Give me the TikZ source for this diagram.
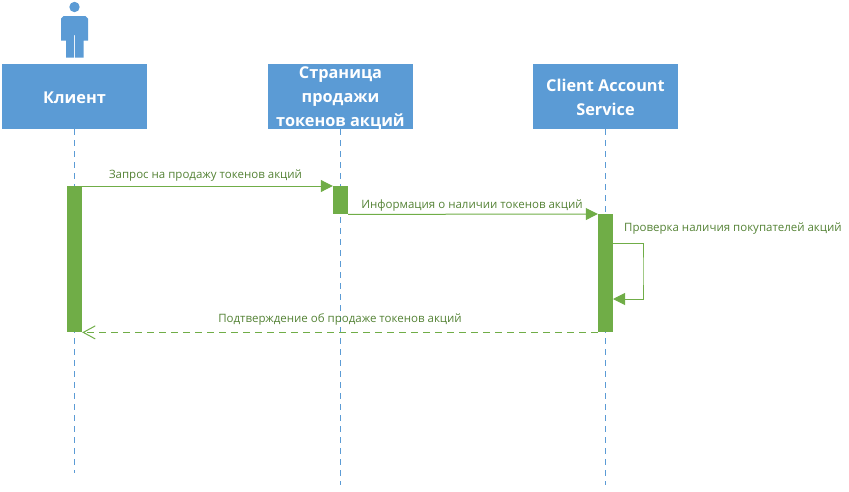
\documentclass[tikz,border=0pt]{standalone}
\usepackage{fontspec}
\setmainfont{Open Sans}
\usetikzlibrary{arrows.meta}
\definecolor{headblue}{HTML}{5B9BD5}
\definecolor{actgreen}{HTML}{70AD47}
\definecolor{labelgreen}{HTML}{548235}
\newcommand{\headstrut}{\rule{0pt}{15pt}}

\begin{document}
\begin{tikzpicture}
  [x=1pt, y=-1pt,
    head/.style={fill=headblue, minimum width=145pt, minimum height=65pt,
      inner sep=0pt, align=center, text=white, font=\fontsize{16.3}{24}\selectfont\bfseries},
    act/.style={fill=actgreen, minimum width=15pt, inner sep=0pt, anchor=north},
    life/.style={headblue, thin, dash pattern=on 6pt off 5pt},
    msg/.style={actgreen, line width=1pt, -{Triangle[length=12pt,width=12pt]}},
    reply/.style={actgreen, line width=1pt, dash pattern=on 7pt off 5pt, -{Straight Barb[length=12pt,width=13pt]}},
    lbl/.style={text=labelgreen, inner sep=0pt, font=\fontsize{11.5}{14}\selectfont}]
 \useasboundingbox (0,0) rectangle (849,491);

 % headers
 \node[head] (client) at (74.5,96.5) {\headstrut Клиент};
 \node[head] (page) at (340.5,96.5) {Страница\\продажи\\\smash{токенов акций}};
 \node[head] (service) at (605.5,96.5) {\headstrut Client Account\\Service};

 % lifelines
 \coordinate (clientend) at (74.5,473);
 \coordinate (pageend) at (340.5,485);
 \coordinate (serviceend) at (605.5,485);
 \foreach \x in {client,page,service}
   \draw[life] (\x.south) -- (\x end);

 % actor
 \fill[headblue] (74.5,7) circle (5.2);
 \fill[headblue] (63.5,16) -- (85.5,16) -- (88,18.5) -- (88,40.5) -- (83.5,40.5) -- (83.5,57.5)
   -- (75,57.5) -- (75,35) -- (74,35) -- (74,57.5) -- (66,57.5) -- (66,40.5)
   -- (61,40.5) -- (61,18.5) -- cycle;

 % activations
 \node[act, minimum height=146pt] (actclient) at (74.5,186) {};
 \node[act, minimum height=28pt] (actpage) at (340.5,186) {};
 \node[act, minimum height=118pt] (actservice) at (605.5,214) {};

 % messages
 \draw[msg] (actclient.north east) -- node[lbl, above=4pt, xshift=-2pt] (lblone) {Запрос на продажу токенов акций} (actpage.north west);
 \draw[msg] (actpage.south east) -- node[lbl, above=2.5pt, xshift=-1pt] (lbltwo) {Информация о наличии токенов акций} (actservice.north west);
 \coordinate (selfout) at (613,243);
 \coordinate (selfin) at (613,299);
 \coordinate (selfturn) at (643,271);
 \draw[msg] (selfout) -| (selfturn) |- (selfin);
 \node[lbl, anchor=west] (lblthree) at (624,229) {Проверка наличия покупателей акций};
 \draw[reply] (actservice.south west) -- node[lbl, above=7pt] (lblfour) {Подтверждение об продаже токенов акций} (actclient.south east);
\end{tikzpicture}
\end{document}
